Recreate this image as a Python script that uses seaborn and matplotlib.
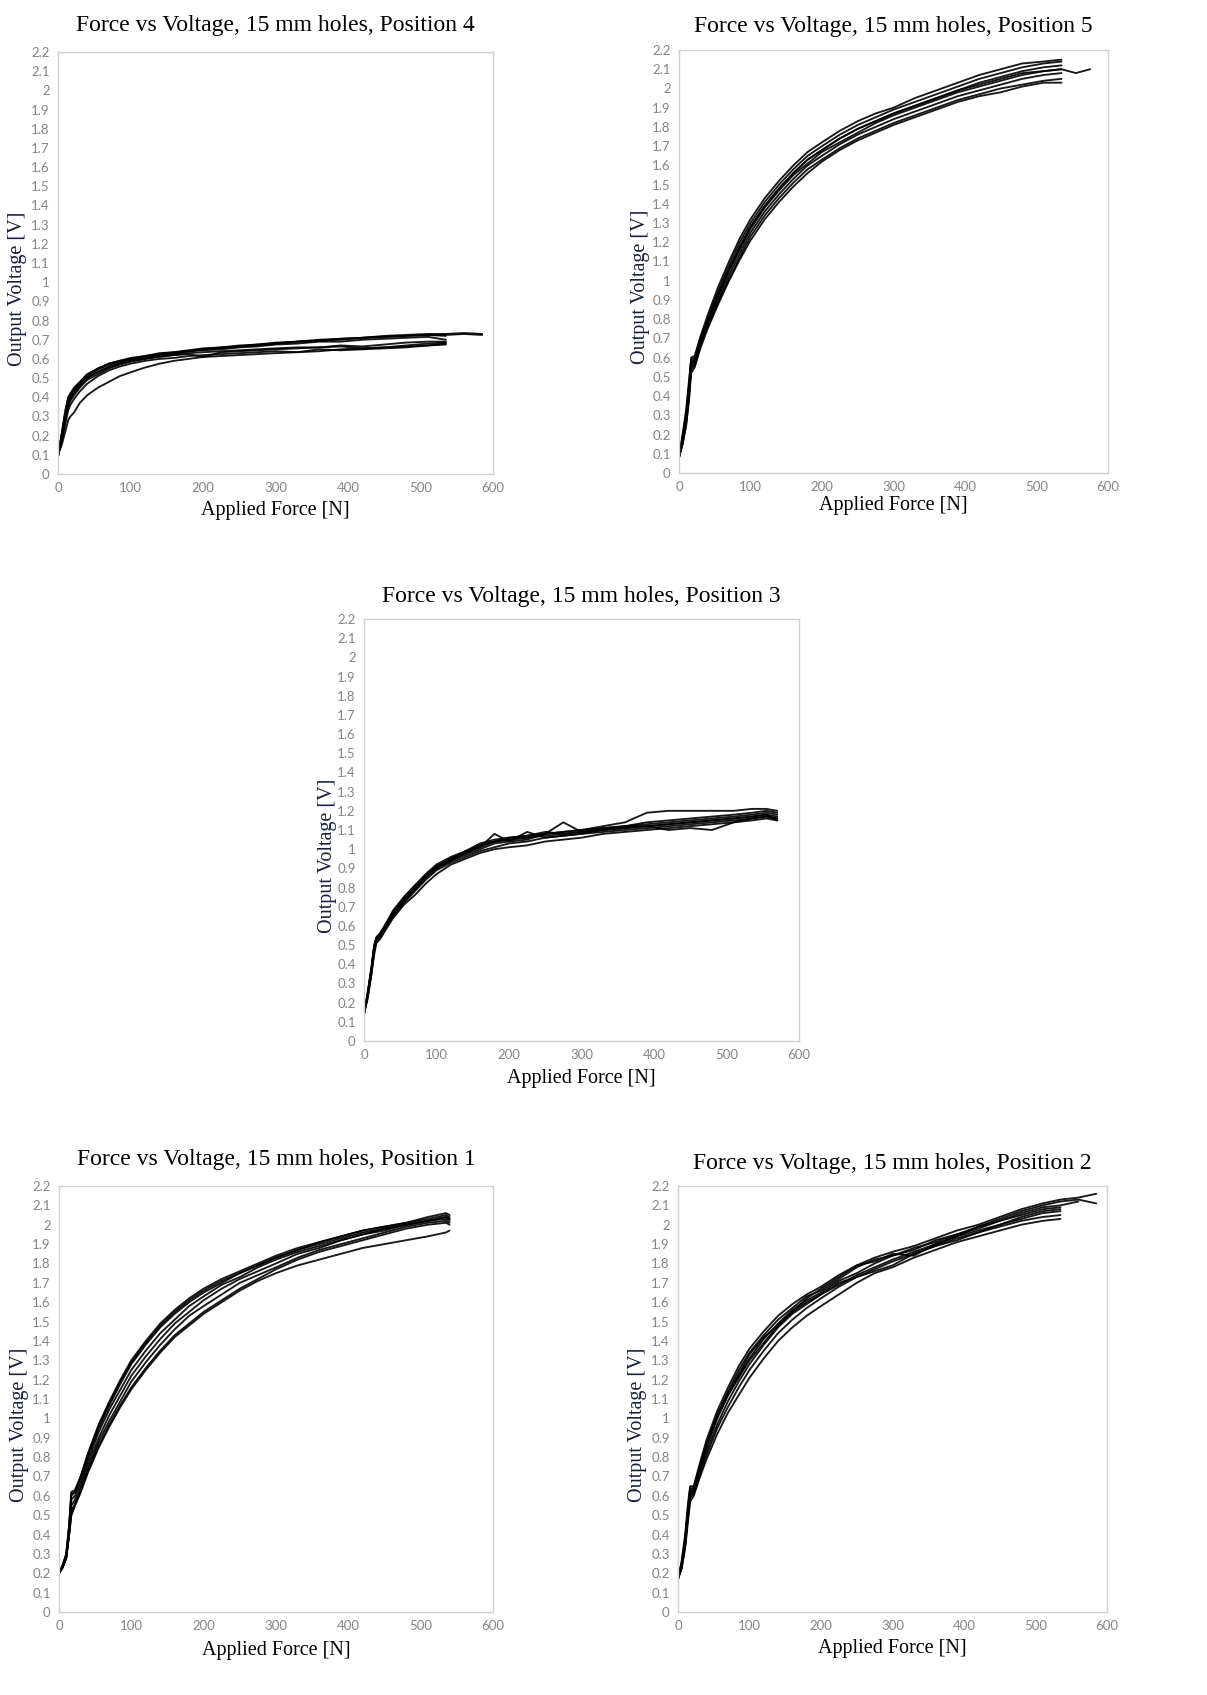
import numpy as np
import pandas as pd
import matplotlib
matplotlib.use("Agg")
import matplotlib.pyplot as plt
import seaborn as sns

# ---------------- data ----------------
TITLES = {
    "P4": "Force vs Voltage, 15 mm holes, Position 4",
    "P5": "Force vs Voltage, 15 mm holes, Position 5",
    "P3": "Force vs Voltage, 15 mm holes, Position 3",
    "P1": "Force vs Voltage, 15 mm holes, Position 1",
    "P2": "Force vs Voltage, 15 mm holes, Position 2",
}
X_LABEL = "Applied Force [N]"
Y_LABEL = "Output Voltage [V]"
X_TICKS = [0, 100, 200, 300, 400, 500, 600]
Y_TICKS = [0, 0.1, 0.2, 0.3, 0.4, 0.5, 0.6, 0.7, 0.8, 0.9, 1.0, 1.1,
           1.2, 1.3, 1.4, 1.5, 1.6, 1.7, 1.8, 1.9, 2.0, 2.1, 2.2]

# Position 4
P4_FORCE = [0, 5, 10, 14, 17, 22, 30, 40, 55, 70, 85, 100, 120, 140, 160, 180, 200,
            225, 250, 275, 300, 330, 360, 390, 420, 450, 480, 510, 535, 560, 585]
P4_T1 = [0.09, 0.21, 0.33, 0.40, 0.42, 0.45, 0.48, 0.52, 0.55, 0.575, 0.59, 0.605, 0.615, 0.63, 0.635, 0.645,
         0.655, 0.66, 0.67, 0.675, 0.685, 0.69, 0.70, 0.705, 0.71, 0.72, 0.725, 0.73, 0.73, 0.735, 0.73]
P4_T2 = [0.10, 0.20, 0.31, 0.38, 0.41, 0.44, 0.47, 0.51, 0.545, 0.57, 0.585, 0.60, 0.61, 0.625, 0.63, 0.64,
         0.65, 0.655, 0.665, 0.67, 0.68, 0.69, 0.695, 0.70, 0.71, 0.715, 0.72, 0.725, 0.72]
P4_T3 = [0.09, 0.19, 0.30, 0.37, 0.40, 0.43, 0.46, 0.50, 0.535, 0.56, 0.58, 0.595, 0.605, 0.62, 0.625, 0.64,
         0.645, 0.65, 0.66, 0.665, 0.675, 0.68, 0.69, 0.69, 0.70, 0.705, 0.71, 0.715, 0.70]
P4_T4 = [0.10, 0.18, 0.28, 0.35, 0.38, 0.41, 0.45, 0.49, 0.52, 0.55, 0.57, 0.585, 0.60, 0.61, 0.62, 0.625,
         0.61, 0.635, 0.64, 0.645, 0.65, 0.655, 0.66, 0.67, 0.665, 0.675, 0.685, 0.69, 0.69]
P4_T5 = [0.10, 0.17, 0.26, 0.33, 0.36, 0.39, 0.43, 0.47, 0.51, 0.54, 0.56, 0.575, 0.59, 0.60, 0.605, 0.615,
         0.62, 0.625, 0.63, 0.635, 0.64, 0.635, 0.65, 0.645, 0.65, 0.655, 0.66, 0.67, 0.675]
P4_T6 = [0.10, 0.15, 0.22, 0.28, 0.30, 0.32, 0.37, 0.41, 0.45, 0.48, 0.51, 0.53, 0.555, 0.575, 0.59, 0.60,
         0.61, 0.615, 0.62, 0.625, 0.63, 0.635, 0.64, 0.65, 0.655, 0.66, 0.665, 0.67, 0.68]
P4_T7 = [0.09, 0.18, 0.29, 0.36, 0.39, 0.42, 0.46, 0.50, 0.53, 0.555, 0.575, 0.59, 0.60, 0.615, 0.62, 0.63,
         0.635, 0.64, 0.645, 0.65, 0.655, 0.66, 0.66, 0.665, 0.655, 0.66, 0.67, 0.68, 0.685]
P4_T8 = [0.09, 0.20, 0.32, 0.39, 0.41, 0.44, 0.475, 0.515, 0.55, 0.575, 0.59, 0.60, 0.615, 0.625, 0.635, 0.64,
         0.65, 0.66, 0.665, 0.675, 0.68, 0.69, 0.695, 0.705, 0.71, 0.715, 0.72, 0.725, 0.725, 0.73, 0.725]

# Position 5
P5_FORCE = [0, 5, 10, 14, 17, 22, 30, 40, 55, 70, 85, 100, 120, 140, 160, 180, 200,
            225, 250, 275, 300, 330, 360, 390, 420, 450, 480, 510, 535, 555, 575]
P5_T1 = [0.08, 0.20, 0.33, 0.48, 0.60, 0.61, 0.71, 0.82, 0.97, 1.10, 1.22, 1.32, 1.43, 1.52, 1.60, 1.67,
         1.72, 1.78, 1.83, 1.87, 1.90, 1.95, 1.99, 2.03, 2.07, 2.10, 2.13, 2.14, 2.15]
P5_T2 = [0.09, 0.19, 0.31, 0.46, 0.59, 0.60, 0.70, 0.80, 0.95, 1.08, 1.20, 1.30, 1.41, 1.50, 1.58, 1.65,
         1.70, 1.76, 1.81, 1.85, 1.89, 1.93, 1.97, 2.01, 2.05, 2.08, 2.11, 2.13, 2.14]
P5_T3 = [0.08, 0.18, 0.30, 0.44, 0.58, 0.59, 0.69, 0.79, 0.93, 1.06, 1.18, 1.28, 1.39, 1.48, 1.56, 1.63,
         1.68, 1.74, 1.79, 1.83, 1.87, 1.91, 1.95, 1.99, 2.03, 2.06, 2.09, 2.11, 2.12]
P5_T4 = [0.09, 0.17, 0.28, 0.42, 0.56, 0.58, 0.68, 0.78, 0.92, 1.05, 1.16, 1.27, 1.38, 1.47, 1.55, 1.61,
         1.67, 1.72, 1.77, 1.82, 1.86, 1.90, 1.94, 1.98, 2.01, 2.04, 2.07, 2.09, 2.10]
P5_T5 = [0.08, 0.16, 0.27, 0.41, 0.55, 0.57, 0.67, 0.77, 0.90, 1.03, 1.14, 1.25, 1.36, 1.45, 1.53, 1.60,
         1.65, 1.71, 1.76, 1.80, 1.84, 1.88, 1.92, 1.96, 1.99, 2.02, 2.05, 2.07, 2.08]
P5_T6 = [0.08, 0.15, 0.25, 0.39, 0.54, 0.56, 0.66, 0.76, 0.89, 1.01, 1.12, 1.23, 1.34, 1.43, 1.51, 1.58,
         1.63, 1.69, 1.74, 1.78, 1.82, 1.86, 1.90, 1.94, 1.97, 2.00, 2.02, 2.04, 2.05]
P5_T7 = [0.09, 0.15, 0.25, 0.38, 0.52, 0.55, 0.65, 0.75, 0.88, 1.00, 1.11, 1.21, 1.32, 1.41, 1.49, 1.56,
         1.62, 1.68, 1.73, 1.77, 1.81, 1.85, 1.89, 1.93, 1.96, 1.98, 2.01, 2.03, 2.03]
P5_T8 = [0.08, 0.17, 0.29, 0.43, 0.57, 0.59, 0.69, 0.79, 0.93, 1.06, 1.17, 1.28, 1.39, 1.48, 1.56, 1.63,
         1.68, 1.74, 1.79, 1.83, 1.87, 1.91, 1.95, 1.99, 2.02, 2.05, 2.08, 2.09, 2.10, 2.08, 2.10]

# Position 3
P3_FORCE = [0, 5, 10, 14, 17, 22, 30, 40, 55, 70, 85, 100, 120, 140, 160, 180, 200,
            225, 250, 275, 300, 330, 360, 390, 420, 450, 480, 510, 535, 555, 570]
P3_T1 = [0.14, 0.25, 0.38, 0.50, 0.54, 0.56, 0.61, 0.68, 0.75, 0.81, 0.87, 0.92, 0.96, 0.99, 1.03, 1.05,
         1.06, 1.07, 1.08, 1.09, 1.10, 1.11, 1.12, 1.14, 1.15, 1.16, 1.17, 1.18, 1.19, 1.20, 1.19]
P3_T2 = [0.15, 0.24, 0.36, 0.48, 0.53, 0.55, 0.60, 0.67, 0.74, 0.80, 0.86, 0.91, 0.95, 0.98, 1.01, 1.04,
         1.05, 1.06, 1.07, 1.08, 1.09, 1.10, 1.12, 1.13, 1.14, 1.15, 1.16, 1.17, 1.18, 1.19, 1.18]
P3_T3 = [0.14, 0.23, 0.35, 0.47, 0.52, 0.54, 0.59, 0.66, 0.73, 0.79, 0.85, 0.90, 0.94, 0.98, 1.01, 1.08,
         1.04, 1.05, 1.08, 1.14, 1.09, 1.10, 1.11, 1.12, 1.13, 1.14, 1.15, 1.16, 1.17, 1.18, 1.17]
P3_T4 = [0.15, 0.23, 0.35, 0.46, 0.52, 0.54, 0.59, 0.65, 0.72, 0.78, 0.84, 0.89, 0.93, 0.96, 0.99, 1.01,
         1.03, 1.04, 1.06, 1.07, 1.08, 1.09, 1.10, 1.11, 1.12, 1.13, 1.14, 1.15, 1.16, 1.17, 1.16]
P3_T5 = [0.14, 0.22, 0.34, 0.45, 0.51, 0.53, 0.58, 0.64, 0.71, 0.76, 0.82, 0.87, 0.92, 0.95, 0.98, 1.00,
         1.01, 1.02, 1.04, 1.05, 1.06, 1.08, 1.09, 1.10, 1.11, 1.12, 1.13, 1.14, 1.15, 1.16, 1.15]
P3_T6 = [0.15, 0.24, 0.37, 0.49, 0.53, 0.55, 0.60, 0.67, 0.74, 0.80, 0.86, 0.90, 0.95, 0.98, 1.02, 1.04,
         1.06, 1.07, 1.09, 1.08, 1.09, 1.11, 1.12, 1.12, 1.10, 1.11, 1.10, 1.14, 1.16, 1.17, 1.16]
P3_T7 = [0.14, 0.25, 0.37, 0.49, 0.54, 0.56, 0.61, 0.67, 0.75, 0.81, 0.86, 0.91, 0.95, 0.99, 1.02, 1.04,
         1.05, 1.06, 1.08, 1.09, 1.10, 1.12, 1.14, 1.19, 1.20, 1.20, 1.20, 1.20, 1.21, 1.21, 1.20]
P3_T8 = [0.15, 0.24, 0.36, 0.48, 0.53, 0.55, 0.60, 0.66, 0.73, 0.79, 0.85, 0.90, 0.94, 0.97, 1.00, 1.03,
         1.04, 1.09, 1.06, 1.07, 1.08, 1.10, 1.11, 1.12, 1.13, 1.14, 1.15, 1.16, 1.17, 1.18, 1.15]

# Position 1
P1_FORCE = [0, 5, 10, 14, 17, 22, 30, 40, 55, 70, 85, 100, 120, 140, 160, 180, 200,
            225, 250, 275, 300, 330, 360, 390, 420, 450, 480, 510, 535, 540]
P1_T1 = [0.20, 0.24, 0.30, 0.45, 0.62, 0.63, 0.70, 0.82, 0.97, 1.09, 1.20, 1.30, 1.40, 1.49, 1.56, 1.62,
         1.67, 1.72, 1.76, 1.80, 1.84, 1.88, 1.91, 1.94, 1.97, 1.99, 2.01, 2.03, 2.05, 2.04]
P1_T2 = [0.20, 0.24, 0.29, 0.44, 0.61, 0.62, 0.69, 0.80, 0.95, 1.07, 1.18, 1.28, 1.38, 1.47, 1.54, 1.60,
         1.65, 1.70, 1.75, 1.79, 1.83, 1.87, 1.90, 1.93, 1.96, 1.98, 2.00, 2.02, 2.04, 2.03]
P1_T3 = [0.21, 0.23, 0.29, 0.42, 0.58, 0.60, 0.67, 0.78, 0.93, 1.05, 1.15, 1.25, 1.35, 1.44, 1.51, 1.58,
         1.63, 1.69, 1.73, 1.78, 1.82, 1.86, 1.89, 1.92, 1.95, 1.98, 2.00, 2.02, 2.04, 2.03]
P1_T4 = [0.20, 0.23, 0.28, 0.41, 0.55, 0.58, 0.65, 0.76, 0.90, 1.02, 1.12, 1.22, 1.32, 1.41, 1.49, 1.55,
         1.61, 1.67, 1.72, 1.76, 1.80, 1.85, 1.88, 1.92, 1.95, 1.97, 2.00, 2.02, 2.03, 2.02]
P1_T5 = [0.20, 0.23, 0.28, 0.40, 0.52, 0.56, 0.63, 0.74, 0.88, 0.99, 1.09, 1.19, 1.29, 1.38, 1.46, 1.53,
         1.58, 1.64, 1.70, 1.74, 1.78, 1.83, 1.87, 1.90, 1.93, 1.96, 1.99, 2.01, 2.02, 2.01]
P1_T6 = [0.20, 0.23, 0.28, 0.40, 0.50, 0.55, 0.62, 0.73, 0.86, 0.97, 1.07, 1.16, 1.26, 1.35, 1.43, 1.49,
         1.55, 1.61, 1.67, 1.72, 1.77, 1.82, 1.86, 1.89, 1.92, 1.95, 1.98, 2.00, 2.01, 2.00]
P1_T7 = [0.20, 0.23, 0.28, 0.40, 0.50, 0.55, 0.62, 0.72, 0.85, 0.96, 1.06, 1.15, 1.25, 1.34, 1.42, 1.48,
         1.54, 1.60, 1.66, 1.71, 1.75, 1.79, 1.82, 1.85, 1.88, 1.90, 1.92, 1.94, 1.96, 1.97]
P1_T8 = [0.20, 0.24, 0.30, 0.44, 0.60, 0.62, 0.70, 0.81, 0.96, 1.08, 1.19, 1.29, 1.39, 1.48, 1.55, 1.61,
         1.66, 1.71, 1.75, 1.79, 1.83, 1.87, 1.91, 1.94, 1.97, 1.99, 2.01, 2.04, 2.06, 2.05]

# Position 2
P2_FORCE = [0, 5, 10, 14, 17, 22, 30, 40, 55, 70, 85, 100, 120, 140, 160, 180, 200,
            225, 250, 275, 300, 330, 360, 390, 420, 450, 480, 510, 535, 560, 585]
P2_T1 = [0.17, 0.26, 0.40, 0.56, 0.65, 0.65, 0.76, 0.89, 1.04, 1.16, 1.27, 1.36, 1.45, 1.53, 1.59, 1.64,
         1.68, 1.74, 1.79, 1.83, 1.86, 1.89, 1.93, 1.97, 2.00, 2.04, 2.08, 2.11, 2.13, 2.14, 2.16]
P2_T2 = [0.18, 0.25, 0.38, 0.54, 0.64, 0.64, 0.75, 0.87, 1.02, 1.14, 1.25, 1.34, 1.43, 1.51, 1.57, 1.63,
         1.66, 1.72, 1.78, 1.82, 1.84, 1.87, 1.92, 1.95, 1.99, 2.03, 2.07, 2.10, 2.12, 2.13, 2.11]
P2_T3 = [0.17, 0.24, 0.37, 0.52, 0.62, 0.63, 0.73, 0.85, 1.00, 1.12, 1.22, 1.31, 1.41, 1.49, 1.56, 1.61,
         1.65, 1.71, 1.75, 1.80, 1.84, 1.88, 1.91, 1.95, 1.98, 2.02, 2.05, 2.08, 2.09]
P2_T4 = [0.17, 0.23, 0.35, 0.50, 0.60, 0.62, 0.72, 0.83, 0.97, 1.09, 1.19, 1.28, 1.38, 1.47, 1.54, 1.59,
         1.64, 1.69, 1.74, 1.78, 1.82, 1.86, 1.90, 1.94, 1.97, 2.00, 2.03, 2.06, 2.07]
P2_T5 = [0.18, 0.23, 0.34, 0.49, 0.59, 0.61, 0.70, 0.81, 0.95, 1.06, 1.16, 1.25, 1.35, 1.44, 1.51, 1.57,
         1.62, 1.68, 1.73, 1.77, 1.81, 1.85, 1.89, 1.93, 1.96, 1.99, 2.02, 2.04, 2.05]
P2_T6 = [0.17, 0.22, 0.33, 0.47, 0.57, 0.60, 0.69, 0.79, 0.92, 1.03, 1.12, 1.21, 1.31, 1.40, 1.47, 1.53,
         1.58, 1.64, 1.70, 1.75, 1.78, 1.83, 1.87, 1.91, 1.94, 1.97, 2.00, 2.02, 2.03]
P2_T7 = [0.17, 0.24, 0.36, 0.51, 0.61, 0.63, 0.73, 0.86, 1.01, 1.13, 1.23, 1.33, 1.42, 1.48, 1.55, 1.62,
         1.67, 1.73, 1.79, 1.81, 1.85, 1.84, 1.90, 1.94, 1.99, 2.02, 2.06, 2.09, 2.10, 2.12]
P2_T8 = [0.18, 0.25, 0.37, 0.53, 0.63, 0.64, 0.74, 0.86, 1.01, 1.12, 1.21, 1.30, 1.39, 1.48, 1.55, 1.60,
         1.64, 1.70, 1.73, 1.76, 1.79, 1.85, 1.89, 1.92, 1.96, 2.00, 2.04, 2.07, 2.08]

PANELS = {
    "P4": (P4_FORCE, [P4_T1, P4_T2, P4_T3, P4_T4, P4_T5, P4_T6, P4_T7, P4_T8]),
    "P5": (P5_FORCE, [P5_T1, P5_T2, P5_T3, P5_T4, P5_T5, P5_T6, P5_T7, P5_T8]),
    "P3": (P3_FORCE, [P3_T1, P3_T2, P3_T3, P3_T4, P3_T5, P3_T6, P3_T7, P3_T8]),
    "P1": (P1_FORCE, [P1_T1, P1_T2, P1_T3, P1_T4, P1_T5, P1_T6, P1_T7, P1_T8]),
    "P2": (P2_FORCE, [P2_T1, P2_T2, P2_T3, P2_T4, P2_T5, P2_T6, P2_T7, P2_T8]),
}

# ---------------- layout (pixels of a 1207x1695 canvas) ----------------
W, H = 1207, 1695
BOXES = {  # left, top, right, bottom, title pad (pt)
    "P4": (58, 52, 493, 474, 15),
    "P5": (679, 50, 1108, 473, 13),
    "P3": (364, 619, 799, 1041, 12),
    "P1": (59, 1186, 493, 1612, 15),
    "P2": (678, 1186, 1107, 1612, 12),
}
XLAB_Y = {"P4": 501, "P5": 496, "P3": 1069, "P1": 1641, "P2": 1639}
YLAB_X = {"P4": 27, "P5": 650, "P3": 337, "P1": 29, "P2": 647}

sns.set_style("white")
SERIF = ["Liberation Serif", "DejaVu Serif"]
TICKFONT = ["Lato", "DejaVu Sans"]
plt.rcParams["font.family"] = TICKFONT

fig = plt.figure(figsize=(W / 100, H / 100), dpi=100)
fig.patch.set_facecolor("white")

for key, (force, trials) in PANELS.items():
    l, t, r, b, tpad = BOXES[key]
    ax = fig.add_axes([l / W, 1 - b / H, (r - l) / W, (b - t) / H])
    rows = []
    for i, tr in enumerate(trials):
        for fx, vy in zip(force, tr):
            rows.append({"force": fx, "voltage": vy, "trial": i})
    df = pd.DataFrame(rows)
    sns.lineplot(data=df, x="force", y="voltage", units="trial", estimator=None,
                 color="black", linewidth=1.35, alpha=0.9, sort=False, ax=ax, legend=False)
    ax.set_xlim(0, 600)
    ax.set_ylim(0, 2.2)
    ax.set_xticks(X_TICKS)
    ax.set_xticklabels([str(v) for v in X_TICKS])
    ax.set_yticks(Y_TICKS)
    ax.set_yticklabels([f"{v:g}" for v in Y_TICKS])
    ax.tick_params(axis="both", length=0, pad=6, labelsize=9.5, labelcolor="#858585")
    for sp in ax.spines.values():
        sp.set_visible(True)
        sp.set_color("#d0d0d0")
        sp.set_linewidth(1.0)
    ax.set_title(TITLES[key], fontsize=17, family=SERIF, color="black", pad=tpad)
    ax.set_xlabel(X_LABEL, fontsize=14.5, family=SERIF, color="black")
    ax.set_ylabel(Y_LABEL, fontsize=14.5, family=SERIF, color="#14213d")
    ax.xaxis.set_label_coords(0.5, (b - XLAB_Y[key]) / (b - t))
    ax.yaxis.set_label_coords((YLAB_X[key] - l) / (r - l), 0.44)

fig.savefig("out.png", dpi=100, facecolor="white")
